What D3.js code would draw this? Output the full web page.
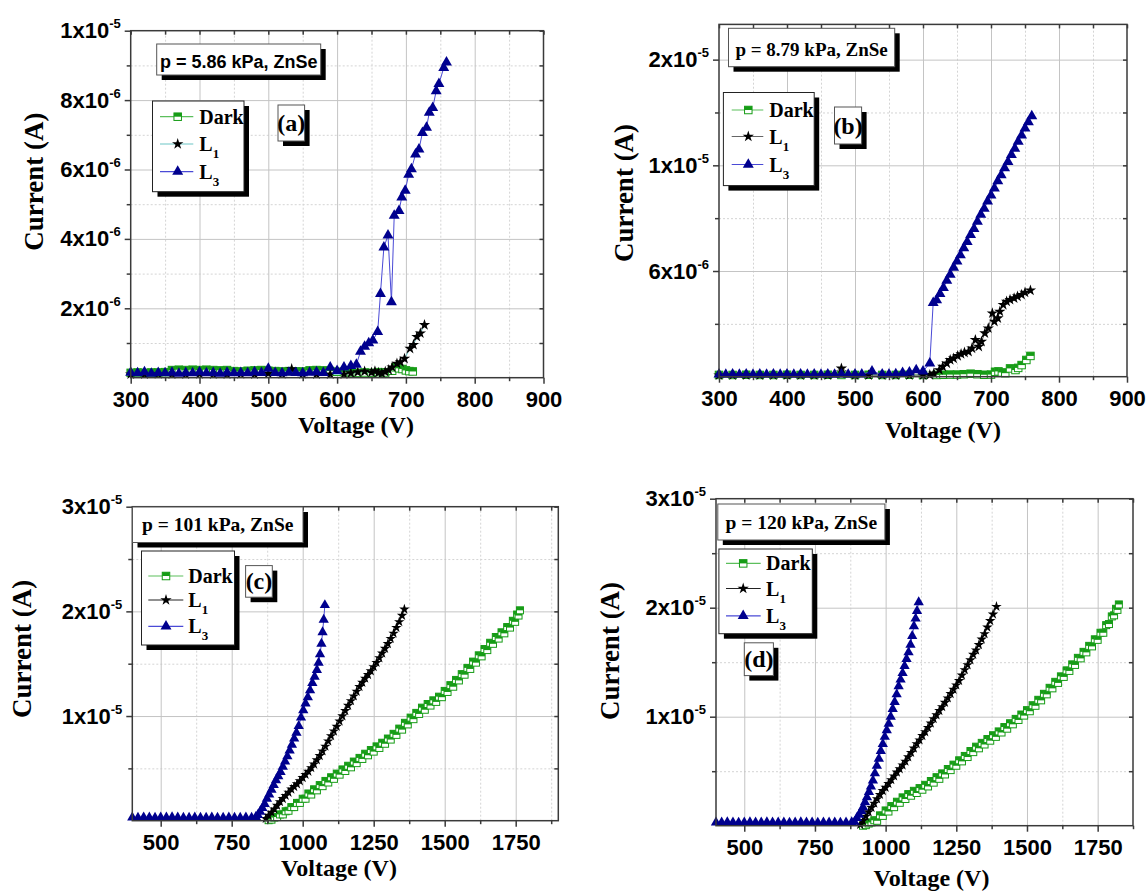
<!DOCTYPE html>
<html>
<head>
<meta charset="utf-8">
<script src="https://cdn.jsdelivr.net/npm/d3@7"></script>
<style>
body { margin: 0; background: #fff; }
svg { display: block; }
.sans { font-family: "Liberation Sans", Arial, sans-serif; font-weight: bold; }
.serif { font-family: "Liberation Serif", "Times New Roman", serif; font-weight: bold; }
</style>
</head>
<body>
<svg id="chart" width="1148" height="891"></svg>
<script>
// values: [voltage (V), current (µA)]
const seriesNames = ['Dark', 'L1', 'L3'];

// (a) p = 5.86 kPa
const aDark = [[300,.14],[310,.15],[320,.14],[330,.15],[340,.15],[350,.16],[360,.22],[370,.23],[380,.22],[390,.23],[400,.22],[410,.23],[420,.22],[430,.21],[440,.22],[450,.19],[460,.18],[470,.2],[480,.21],[490,.22],[500,.2],[510,.19],[520,.18],[530,.19],[540,.18],[550,.18],[560,.21],[570,.22],[580,.21],[590,.19],[600,.17],[610,.16],[620,.15],[630,.14],[640,.15],[650,.14],[660,.16],[670,.15],[680,.2],[685,.3],[690,.27],[695,.25],[700,.21],[705,.19],[710,.18]];
const aL1 = [[300,.1],[320,.1],[340,.11],[360,.1],[380,.1],[400,.11],[420,.1],[440,.1],[460,.11],[480,.1],[500,.12],[520,.11],[534,.25],[550,.11],[570,.1],[590,.1],[610,.1],[620,.13],[630,.16],[640,.18],[650,.15],[655,.19],[660,.14],[665,.12],[670,.17],[675,.22],[680,.3],[687,.41],[692,.45],[698,.55],[706,.84],[711,.95],[716,1.18],[721,1.28],[727,1.52]];
const aL3 = [[300,.15],[310,.13],[320,.16],[330,.12],[340,.14],[350,.13],[360,.15],[370,.12],[380,.14],[390,.13],[400,.16],[410,.13],[420,.14],[430,.12],[440,.15],[450,.13],[460,.14],[470,.13],[480,.16],[490,.14],[500,.26],[510,.14],[520,.13],[530,.15],[540,.14],[550,.13],[560,.15],[570,.16],[580,.14],[590,.3],[600,.2],[610,.3],[620,.34],[628,.38],[634,.75],[640,.9],[646,1.0],[652,1.08],[659,1.32],[663,2.42],[668,3.76],[674,4.1],[679,2.18],[683,4.67],[690,4.81],[694,5.2],[699,5.39],[704,5.85],[708,6.01],[714,6.44],[719,6.58],[724,7.06],[730,7.21],[734,7.64],[739,7.78],[744,8.26],[748,8.47],[755,8.93],[759,9.09]];

// (b) p = 8.79 kPa
const bDark = [[300,.1],[320,.1],[340,.11],[360,.1],[380,.1],[400,.11],[420,.1],[440,.1],[460,.11],[480,.1],[500,.1],[520,.11],[540,.1],[560,.1],[580,.11],[600,.1],[620,.1],[630,.11],[640,.12],[650,.12],[660,.14],[670,.17],[680,.14],[690,.11],[700,.12],[706,.28],[711,.3],[716,.24],[721,.2],[728,.47],[736,.38],[740,.5],[745,.66],[752,.95],[758,1.18]];
const bL1 = [[300,.08],[320,.08],[340,.09],[360,.08],[380,.08],[400,.09],[420,.08],[440,.08],[460,.09],[480,.47],[500,.08],[520,.09],[540,.08],[560,.08],[580,.09],[600,.08],[610,.1],[616,.19],[624,.38],[629,.57],[635,.76],[640,.95],[645,1.04],[651,1.18],[656,1.29],[661,1.37],[667,1.42],[672,1.61],[677,2.09],[682,1.71],[686,1.99],[691,2.47],[696,2.75],[702,3.6],[705,3.13],[710,3.32],[713,3.7],[718,4.08],[723,4.27],[728,4.37],[734,4.46],[739,4.56],[745,4.65],[750,4.78],[758,4.9]];
const bL3 = [[300,.13],[310,.12],[320,.14],[330,.12],[340,.13],[350,.12],[360,.14],[370,.12],[380,.13],[390,.12],[400,.14],[410,.12],[420,.13],[430,.12],[440,.14],[450,.12],[460,.13],[470,.12],[480,.14],[490,.12],[500,.13],[510,.14],[525,.3],[540,.13],[550,.14],[560,.15],[570,.22],[580,.25],[590,.38],[600,.3],[610,.76],[615,4.2],[620,4.35],[625,4.7],[630,5.05],[635,5.45],[640,5.8],[645,6.2],[650,6.55],[655,6.9],[660,7.3],[665,7.65],[670,8.05],[675,8.4],[680,8.8],[685,9.2],[690,9.55],[695,9.95],[700,10.3],[705,10.7],[710,11.1],[715,11.45],[720,11.85],[725,12.2],[730,12.6],[735,12.95],[740,13.35],[745,13.7],[750,14.1],[755,14.45],[760,14.8]];

// (c) p = 101 kPa
const cDark = [[880,.05],[890,.1],[900,.3],[910,.35],[920,.6],[930,.6],[940,.9],[950,.95],[960,1.3],[970,1.3],[980,1.7],[990,1.7],[1000,2.1],[1010,2.1],[1020,2.6],[1030,2.5],[1040,3.0],[1050,2.9],[1060,3.4],[1070,3.3],[1080,3.8],[1090,3.65],[1100,4.15],[1110,4.0],[1120,4.5],[1130,4.4],[1140,4.9],[1150,4.75],[1160,5.25],[1170,5.1],[1180,5.65],[1190,5.5],[1200,6.0],[1210,5.9],[1220,6.4],[1230,6.25],[1240,6.75],[1250,6.6],[1260,7.1],[1270,6.95],[1280,7.45],[1290,7.35],[1300,7.85],[1310,7.75],[1320,8.3],[1330,8.2],[1340,8.8],[1350,8.7],[1360,9.35],[1370,9.2],[1380,9.85],[1390,9.7],[1400,10.3],[1410,10.2],[1420,10.8],[1430,10.6],[1440,11.15],[1450,11.0],[1460,11.5],[1470,11.35],[1480,11.85],[1490,11.8],[1500,12.4],[1510,12.3],[1520,12.95],[1530,12.8],[1540,13.45],[1550,13.4],[1560,14.0],[1570,13.95],[1580,14.6],[1590,14.5],[1600,15.2],[1610,15.1],[1620,15.8],[1630,15.7],[1640,16.4],[1650,16.3],[1660,17.0],[1670,16.9],[1680,17.55],[1690,17.4],[1700,18.0],[1710,17.9],[1720,18.5],[1730,18.45],[1740,19.1],[1748,19.0],[1755,19.7],[1760,19.6],[1765,20.1]];
const cL1 = [[870,.2],[880,.5],[890,.8],[900,1.1],[910,1.45],[920,1.8],[930,2.1],[940,2.4],[950,2.7],[960,3.0],[970,3.25],[980,3.5],[990,3.8],[1000,4.1],[1010,4.4],[1020,4.7],[1030,5.05],[1040,5.4],[1050,5.8],[1060,6.2],[1070,6.65],[1080,7.1],[1090,7.6],[1100,8.1],[1110,8.55],[1120,9.0],[1130,9.5],[1140,10.0],[1150,10.5],[1160,11.0],[1170,11.45],[1180,11.9],[1190,12.35],[1200,12.8],[1210,13.2],[1220,13.6],[1230,13.95],[1240,14.3],[1250,14.7],[1260,15.1],[1270,15.55],[1280,16.0],[1290,16.45],[1300,16.9],[1310,17.4],[1320,17.9],[1330,18.45],[1340,19.0],[1350,19.6],[1358,20.2]];
const cL3 = [[400,.3],[420,.28],[440,.32],[460,.3],[480,.29],[500,.31],[520,.3],[540,.33],[560,.3],[580,.28],[600,.29],[620,.3],[640,.28],[660,.29],[680,.3],[700,.28],[720,.29],[740,.3],[760,.28],[780,.29],[800,.3],[820,.29],[835,.35],[842,.54],[850,.85],[858,1.2],[866,1.6],[874,2.1],[882,2.5],[890,2.95],[898,3.4],[906,3.87],[914,4.25],[922,4.65],[930,5.15],[938,5.65],[946,6.15],[954,6.7],[962,7.25],[970,7.84],[978,8.4],[986,9.05],[994,9.85],[1002,10.55],[1010,11.2],[1018,11.8],[1026,12.45],[1034,13.15],[1042,13.75],[1050,14.4],[1056,15.1],[1061,15.9],[1066,16.9],[1070,18.0],[1074,19.2],[1078,20.6]];

// (d) p = 120 kPa
const dDark = [[920,0],[930,.05],[940,.2],[950,.3],[960,.5],[970,.45],[980,.95],[990,.9],[1000,1.4],[1010,1.3],[1020,1.8],[1030,1.7],[1040,2.2],[1050,2.1],[1060,2.6],[1070,2.45],[1080,2.9],[1090,2.75],[1100,3.2],[1110,3.0],[1120,3.45],[1130,3.3],[1140,3.75],[1150,3.6],[1160,4.1],[1170,3.95],[1180,4.45],[1190,4.3],[1200,4.8],[1210,4.7],[1220,5.2],[1230,5.1],[1240,5.6],[1250,5.5],[1260,6.0],[1270,5.9],[1280,6.4],[1290,6.3],[1300,6.85],[1310,6.75],[1320,7.25],[1330,7.1],[1340,7.6],[1350,7.45],[1360,7.95],[1370,7.8],[1380,8.3],[1390,8.15],[1400,8.65],[1410,8.55],[1420,9.05],[1430,8.9],[1440,9.4],[1450,9.3],[1460,9.8],[1470,9.7],[1480,10.2],[1490,10.1],[1500,10.6],[1510,10.5],[1520,11.05],[1530,11.0],[1540,11.55],[1550,11.5],[1560,12.1],[1570,12.05],[1580,12.65],[1590,12.6],[1600,13.2],[1610,13.1],[1620,13.7],[1630,13.65],[1640,14.25],[1650,14.2],[1660,14.8],[1670,14.75],[1680,15.4],[1690,15.35],[1700,15.95],[1710,15.9],[1720,16.5],[1730,16.45],[1740,17.1],[1750,17.05],[1760,17.7],[1770,17.7],[1780,18.4],[1790,18.5],[1800,19.2],[1808,19.3],[1815,19.9],[1820,19.8],[1825,20.3]];
const dL1 = [[910,.1],[920,.45],[930,.85],[940,1.25],[950,1.65],[960,2.05],[970,2.45],[980,2.85],[990,3.2],[1000,3.5],[1010,3.85],[1020,4.2],[1030,4.55],[1040,4.9],[1050,5.2],[1060,5.55],[1070,5.9],[1080,6.3],[1090,6.7],[1100,7.1],[1110,7.5],[1120,7.85],[1130,8.25],[1140,8.6],[1150,9.0],[1160,9.4],[1170,9.8],[1180,10.15],[1190,10.55],[1200,10.9],[1210,11.3],[1220,11.7],[1230,12.1],[1240,12.5],[1250,12.9],[1260,13.3],[1270,13.8],[1280,14.3],[1290,14.75],[1300,15.2],[1310,15.7],[1320,16.1],[1330,16.6],[1340,17.1],[1350,17.6],[1360,18.2],[1370,18.8],[1380,19.4],[1392,20.1]];
const dL3 = [[400,.3],[420,.29],[440,.31],[460,.3],[480,.28],[500,.3],[520,.31],[540,.29],[560,.3],[580,.32],[600,.3],[620,.29],[640,.3],[660,.28],[680,.3],[700,.31],[720,.29],[740,.3],[760,.28],[780,.3],[800,.29],[820,.3],[840,.28],[860,.3],[880,.31],[890,.35],[898,.7],[906,1.0],[914,1.35],[920,1.7],[927,2.15],[934,2.6],[941,3.1],[948,3.6],[955,4.15],[962,4.8],[969,5.5],[976,6.15],[983,6.85],[990,7.5],[997,8.15],[1004,8.75],[1011,9.35],[1018,10.0],[1025,10.7],[1032,11.35],[1039,12.05],[1046,12.8],[1053,13.4],[1060,14.0],[1067,14.65],[1074,15.3],[1081,15.9],[1088,16.6],[1094,17.4],[1100,18.3],[1106,19.0],[1111,19.7],[1117,20.5]];

// axis ticks and labels
const lowXMajor = [300, 400, 500, 600, 700, 800, 900];
const lowXMinor = [350, 450, 550, 650, 750, 850];
const highXMajor = [500, 750, 1000, 1250, 1500, 1750];
const highXMinor = [625, 875, 1125, 1375, 1625, 1875];
const aYMajor = [2, 4, 6, 8, 10];
const aYLabels = ['2x10^-6', '4x10^-6', '6x10^-6', '8x10^-6', '1x10^-5'];
const aYMinor = [1, 3, 5, 7, 9];
const bYMajor = [6, 12, 18];
const bYLabels = ['6x10^-6', '1x10^-5', '2x10^-5'];
const bYMinor = [3, 9, 15];
const cdYMajor = [10, 20, 30];
const cdYLabels = ['1x10^-5', '2x10^-5', '3x10^-5'];
const cdYMinor = [5, 15, 25];
const pressureText = ['p = 5.86 kPa, ZnSe', 'p = 8.79 kPa, ZnSe', 'p = 101 kPa, ZnSe', 'p = 120 kPa, ZnSe'];
const panelTags = ['(a)', '(b)', '(c)', '(d)'];

const svg = d3.select('#chart');
svg.append('rect').attr('width', 1148).attr('height', 891).attr('fill', '#fff');

const GREEN = '#169c16', GREEN_LINE = '#5cbf5c', NAVY = '#00008e', BLUE_LINE = '#4a4ad6';

const panels = [
  { data: [aDark, aL1, aL3], left: 130.7, right: 543.5, top: 30.7, bottom: 377.7,
    xDomain: [300, 900], yDomain: [0, 10], xMajor: lowXMajor, xMinor: lowXMinor,
    yMajor: aYMajor, yLabels: aYLabels, yMinor: aYMinor, l1Line: '#6cc6c6', big: true,
    box: [156.7, 44, 320.7, 75], boxSans: true, boxBase: 67.5, boxFont: 18,
    legend: [152.5, 101, 244, 191.7], legendY: [116.7, 144, 171.7], legendX: [160, 193.3, 177.7, 199.3],
    tag: [278, 105, 304.6, 141], tagBase: 131,
    yTitle: [34.4, 181.6], xTitle: [356, 433] },
  { data: [bDark, bL1, bL3], left: 719, right: 1127, top: 24.4, bottom: 376.7,
    xDomain: [300, 900], yDomain: [0, 20], xMajor: lowXMajor, xMinor: lowXMinor,
    yMajor: bYMajor, yLabels: bYLabels, yMinor: bYMinor, l1Line: '#666', big: true,
    box: [728.5, 28.3, 894.7, 66.7], boxSans: false, boxBase: 55.5, boxFont: 19,
    legend: [723.4, 92.5, 814.2, 185.6], legendY: [110, 136.5, 164.5], legendX: [731.7, 763.3, 748.3, 769.3],
    tag: [834.5, 107, 861.6, 144], tagBase: 134,
    yTitle: [623.8, 193], xTitle: [943, 438] },
  { data: [cDark, cL1, cL3], left: 132.3, right: 558.3, top: 506.7, bottom: 820.7,
    xDomain: [400, 1900], yDomain: [0, 30], xMajor: highXMajor, xMinor: highXMinor,
    yMajor: cdYMajor, yLabels: cdYLabels, yMinor: cdYMinor, l1Line: '#222', big: false,
    box: [132.5, 507, 303, 542.5], boxSans: false, boxBase: 531, boxFont: 19.5,
    legend: [141.5, 551, 234.5, 645], legendY: [576, 600, 626.4], legendX: [148.3, 183.3, 166, 188.3],
    tag: [245.6, 565.6, 272.3, 597.2], tagBase: 589,
    yTitle: [21.6, 648.8], xTitle: [339, 876] },
  { data: [dDark, dL1, dL3], left: 716, right: 1133, top: 498.7, bottom: 825.7,
    xDomain: [400, 1875], yDomain: [0, 30], xMajor: highXMajor, xMinor: highXMinor,
    yMajor: cdYMajor, yLabels: cdYLabels, yMinor: cdYMinor, l1Line: '#222', big: false,
    box: [717.8, 504, 884.9, 540], boxSans: false, boxBase: 528.5, boxFont: 19.5,
    legend: [718.9, 549, 812.3, 633.7], legendY: [563.4, 588.5, 615.9], legendX: [726, 760.7, 743.2, 766.1],
    tag: [744.3, 642.8, 773.4, 675.6], tagBase: 667,
    yTitle: [609.8, 651], xTitle: [931.5, 886] }
];

function square(sel, s) {
  sel.append('rect').attr('x', -s / 2).attr('y', -s / 2).attr('width', s).attr('height', s)
    .attr('fill', '#fff').attr('stroke', GREEN).attr('stroke-width', 1);
  sel.append('rect').attr('x', -s / 2).attr('y', -s / 2).attr('width', s).attr('height', s / 2)
    .attr('fill', GREEN);
}

function drawMarker(sel, k, big) {
  if (k === 0) square(sel, big ? 7.5 : 7);
  else if (k === 1) sel.append('path').attr('d', d3.symbol(d3.symbolStar, big ? 40 : 34)()).attr('fill', '#000');
  else sel.append('path').attr('d', d3.symbol(d3.symbolTriangle, big ? 52 : 46)()).attr('fill', NAVY);
}

function shadowBox(g, b, stroke) {
  g.append('rect').attr('x', b[0] + 5).attr('y', b[1] + 5).attr('width', b[2] - b[0]).attr('height', b[3] - b[1]).attr('fill', '#000');
  g.append('rect').attr('x', b[0]).attr('y', b[1]).attr('width', b[2] - b[0]).attr('height', b[3] - b[1])
    .attr('fill', '#fff').attr('stroke', stroke).attr('stroke-width', 1);
}

function sciLabel(text, str) {
  const [m, e] = str.split('^');
  text.text(null);
  text.append('tspan').text(m);
  text.append('tspan').attr('dy', -10).attr('font-size', 13).text(e);
}

panels.forEach((p, pi) => {
  const g = svg.append('g');
  const x = d3.scaleLinear().domain(p.xDomain).range([p.left, p.right]);
  const y = d3.scaleLinear().domain(p.yDomain).range([p.bottom, p.top]);
  const w = p.right - p.left, h = p.bottom - p.top;

  const gridStyle = (dashed) => s => {
    s.select('.domain').remove();
    s.selectAll('line').attr('stroke', dashed ? '#d4d4d4' : '#c4c4c4').attr('stroke-width', 1)
      .attr('stroke-dasharray', dashed ? '2,2' : null);
  };
  const inside = v => v > p.xDomain[0] && v < p.xDomain[1];
  const insideY = v => v > p.yDomain[0] && v < p.yDomain[1];
  g.append('g').attr('transform', `translate(0,${p.bottom})`)
    .call(d3.axisBottom(x).tickValues(p.xMinor.filter(inside)).tickSize(-h).tickFormat(''))
    .call(gridStyle(true));
  g.append('g').attr('transform', `translate(${p.left},0)`)
    .call(d3.axisLeft(y).tickValues(p.yMinor).tickSize(-w).tickFormat(''))
    .call(gridStyle(true));
  g.append('g').attr('transform', `translate(0,${p.bottom})`)
    .call(d3.axisBottom(x).tickValues(p.xMajor.filter(inside)).tickSize(-h).tickFormat(''))
    .call(gridStyle(false));
  g.append('g').attr('transform', `translate(${p.left},0)`)
    .call(d3.axisLeft(y).tickValues(p.yMajor.filter(insideY)).tickSize(-w).tickFormat(''))
    .call(gridStyle(false));

  // series: Dark, L1, L3
  const lineColors = [GREEN_LINE, p.l1Line, BLUE_LINE];
  const line = d3.line().x(d => x(d[0])).y(d => y(d[1]));
  p.data.forEach((ser, k) => {
    g.append('path').datum(ser).attr('d', line).attr('fill', 'none')
      .attr('stroke', lineColors[k]).attr('stroke-width', 1);
    g.selectAll(null).data(ser).join('g')
      .attr('transform', d => `translate(${x(d[0])},${y(d[1])})`)
      .each(function () { drawMarker(d3.select(this), k, p.big); });
  });

  // frame
  g.append('rect').attr('x', p.left).attr('y', p.top).attr('width', w).attr('height', h)
    .attr('fill', 'none').attr('stroke', '#3a3a3a').attr('stroke-width', 1.5);

  const axisStyle = s => {
    s.select('.domain').remove();
    s.selectAll('line').attr('stroke', '#3a3a3a').attr('stroke-width', 1.5);
  };
  // bottom axis
  g.append('g').attr('transform', `translate(0,${p.bottom})`)
    .call(d3.axisBottom(x).tickValues(p.xMinor).tickSize(3.5).tickFormat(''))
    .call(axisStyle);
  g.append('g').attr('transform', `translate(0,${p.bottom})`)
    .call(d3.axisBottom(x).tickValues(p.xMajor).tickSize(6).tickPadding(8).tickFormat(d3.format('d')))
    .call(axisStyle)
    .call(s => s.selectAll('text').attr('class', 'sans').attr('font-size', 22).attr('fill', '#000'));
  // top axis
  g.append('g').attr('transform', `translate(0,${p.top})`)
    .call(d3.axisTop(x).tickValues(p.xMajor.concat(p.xMinor)).tickSize(-4).tickFormat(''))
    .call(axisStyle);
  // left axis
  g.append('g').attr('transform', `translate(${p.left},0)`)
    .call(d3.axisLeft(y).tickValues(p.yMinor).tickSize(4).tickFormat(''))
    .call(axisStyle);
  g.append('g').attr('transform', `translate(${p.left},0)`)
    .call(d3.axisLeft(y).tickValues(p.yMajor).tickSize(6).tickPadding(4).tickFormat((d, i) => p.yLabels[i]))
    .call(axisStyle)
    .call(s => s.selectAll('text').attr('class', 'sans').attr('font-size', 22).attr('fill', '#000')
      .each(function (d, i) { sciLabel(d3.select(this), p.yLabels[i]); }));
  // right axis
  g.append('g').attr('transform', `translate(${p.right},0)`)
    .call(d3.axisRight(y).tickValues(p.yMajor.concat(p.yMinor)).tickSize(-4).tickFormat(''))
    .call(axisStyle);

  // axis titles
  g.append('text').attr('class', 'serif').attr('font-size', 27)
    .attr('transform', `translate(${p.yTitle[0]},${p.yTitle[1]}) rotate(-90)`)
    .attr('text-anchor', 'middle').attr('dominant-baseline', 'central').text('Current (A)');
  g.append('text').attr('class', 'serif').attr('font-size', 24)
    .attr('x', p.xTitle[0]).attr('y', p.xTitle[1]).attr('text-anchor', 'middle').text('Voltage (V)');

  // pressure box
  shadowBox(g, p.box, '#555');
  g.append('text').attr('class', p.boxSans ? 'sans' : 'serif').attr('font-size', p.boxFont)
    .attr('x', (p.box[0] + p.box[2]) / 2).attr('y', p.boxBase).attr('text-anchor', 'middle')
    .text(pressureText[pi]);

  // legend
  shadowBox(g, p.legend, '#222');
  seriesNames.forEach((name, k) => {
    const ly = p.legendY[k];
    g.append('line').attr('x1', p.legendX[0]).attr('x2', p.legendX[1]).attr('y1', ly).attr('y2', ly)
      .attr('stroke', lineColors[k]).attr('stroke-width', 1.2);
    drawMarker(g.append('g').attr('transform', `translate(${p.legendX[2]},${ly})`), k, true);
    const t = g.append('text').attr('class', 'serif').attr('font-size', 20)
      .attr('x', p.legendX[3]).attr('y', ly + 7);
    if (k === 0) t.text(name);
    else {
      t.append('tspan').text(name[0]);
      t.append('tspan').attr('font-size', 13).attr('dy', 7).text(name.slice(1));
    }
  });

  // panel tag
  shadowBox(g, p.tag, '#555');
  g.append('text').attr('class', 'serif').attr('font-size', 24)
    .attr('x', (p.tag[0] + p.tag[2]) / 2).attr('y', p.tagBase).attr('text-anchor', 'middle')
    .text(panelTags[pi]);
});
</script>
</body>
</html>
